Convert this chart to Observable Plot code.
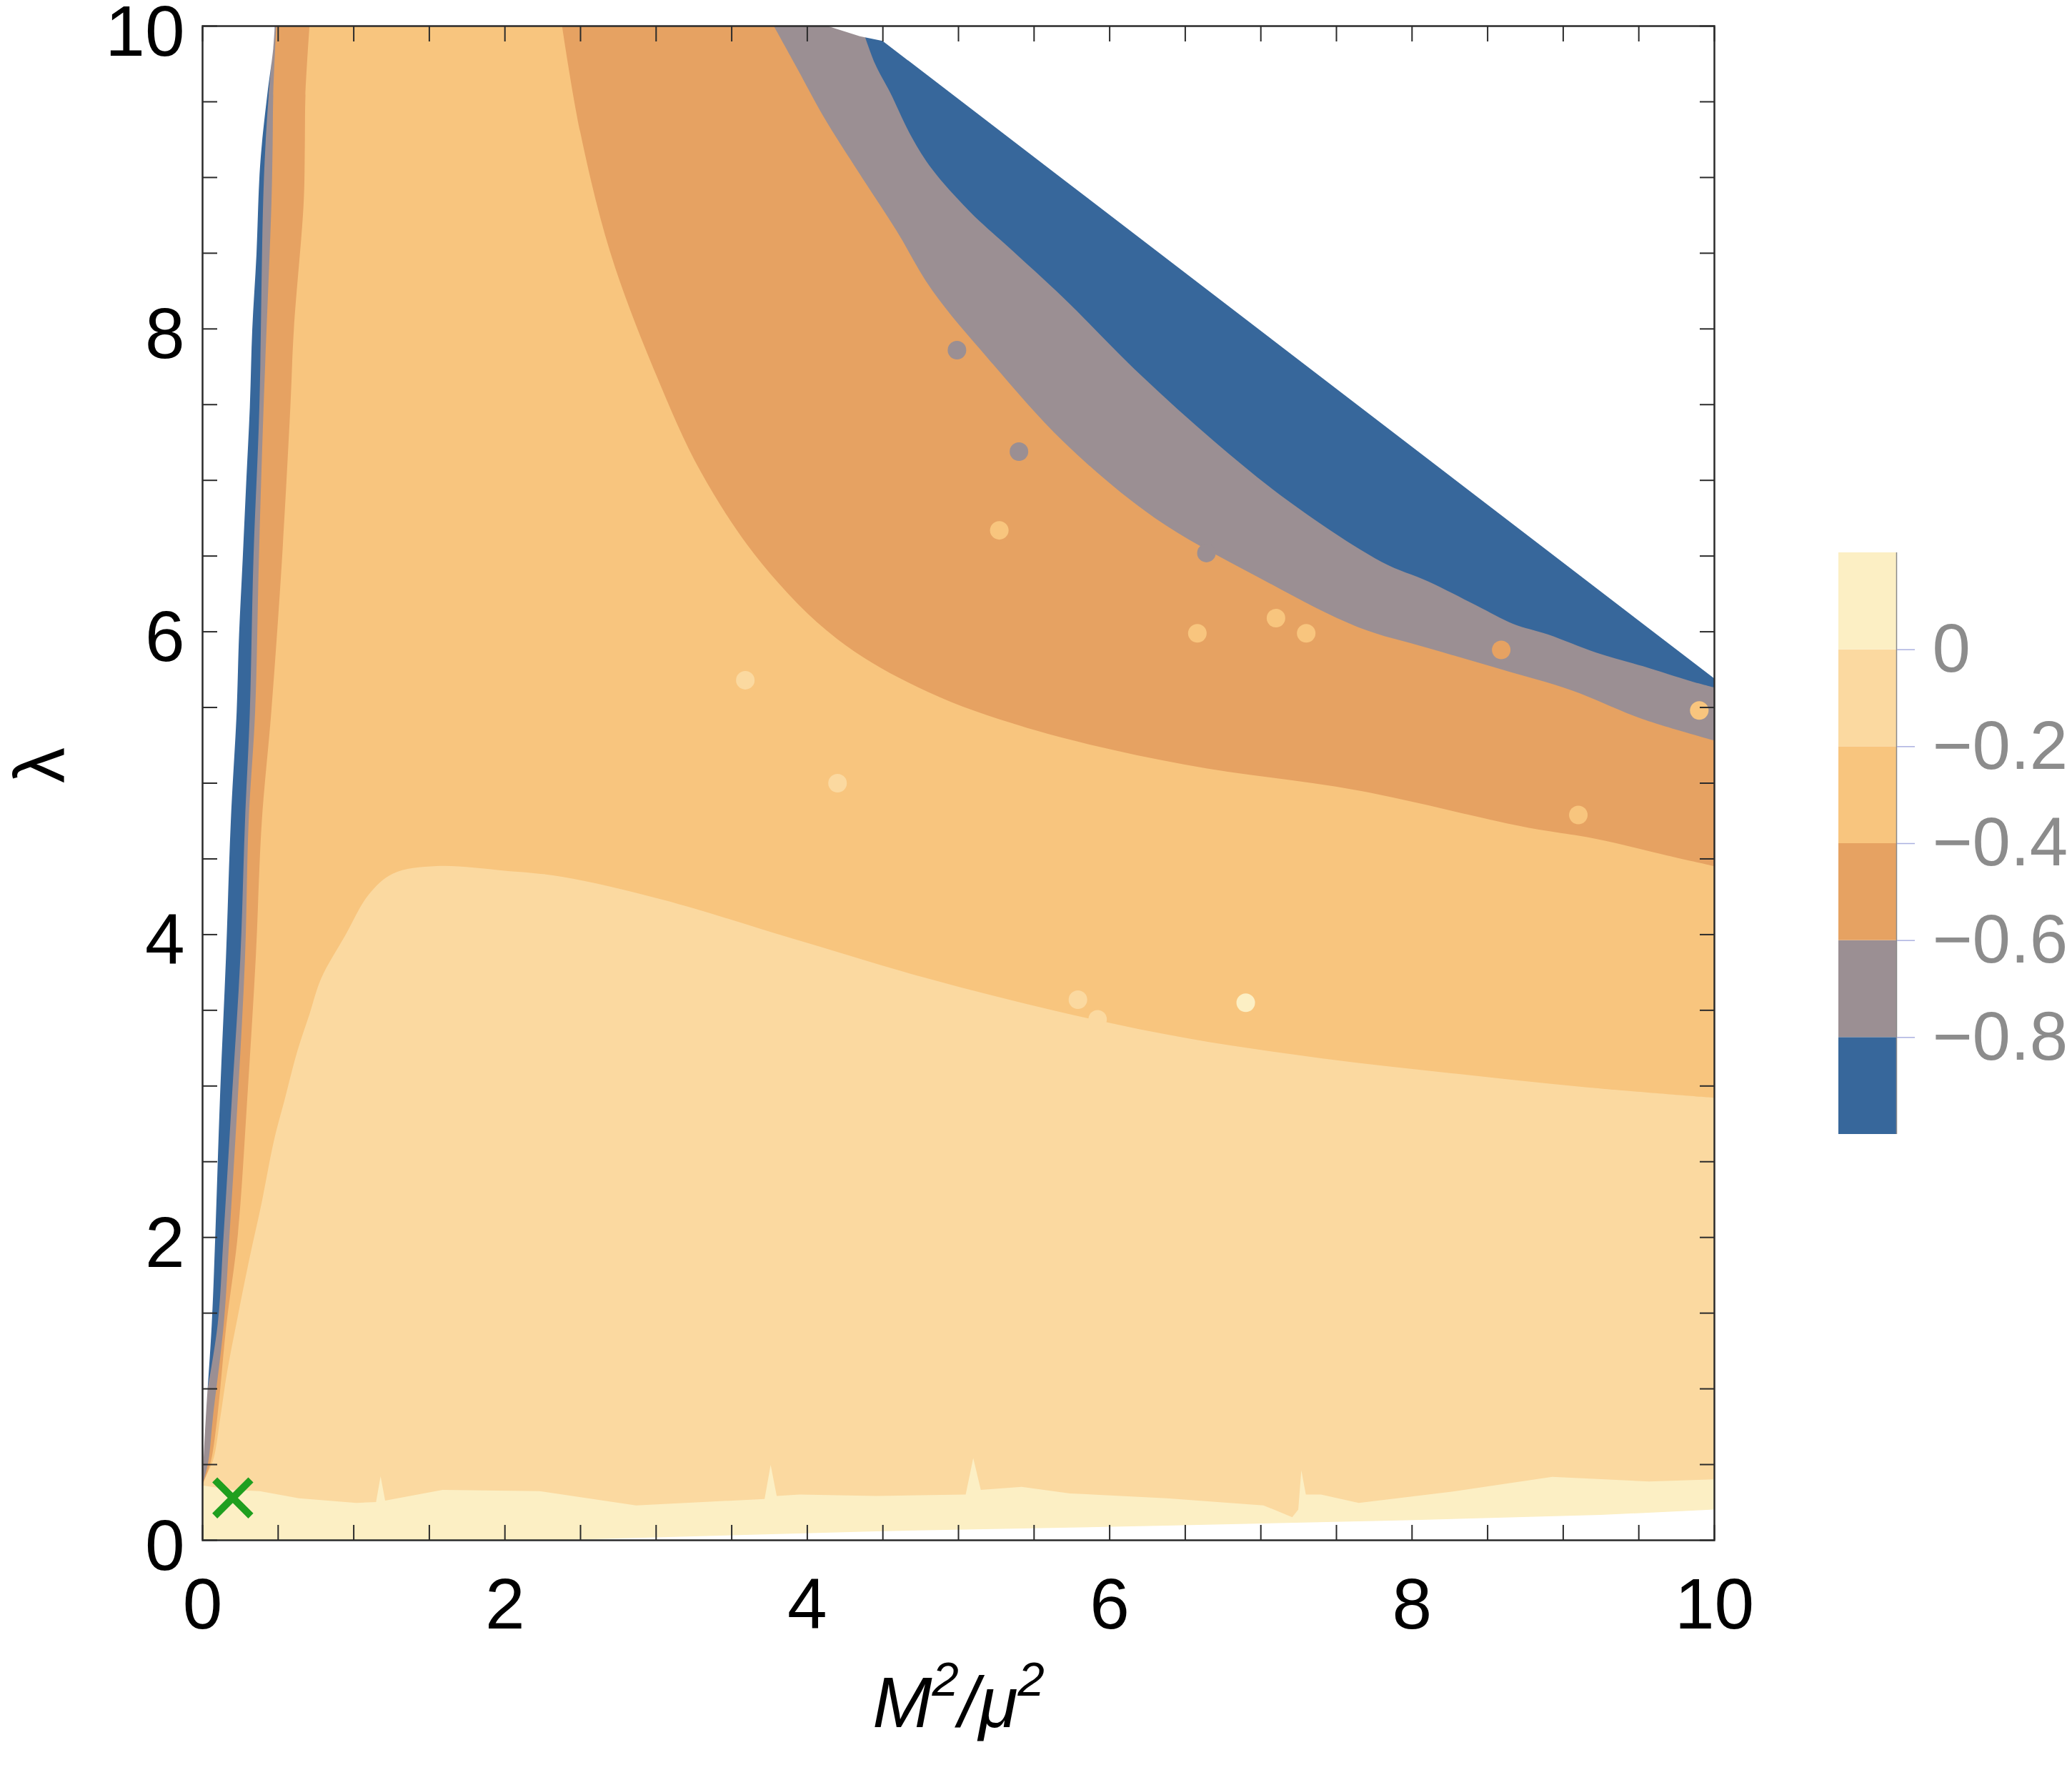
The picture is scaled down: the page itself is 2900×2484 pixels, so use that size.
<!DOCTYPE html>
<html>
<head>
<meta charset="utf-8">
<script src="https://cdn.jsdelivr.net/npm/d3@7"></script>
<script src="https://cdn.jsdelivr.net/npm/@observablehq/plot@0.6"></script>
<style>
  html, body { margin: 0; padding: 0; background: #fff; }
  #chart { position: relative; width: 2900px; height: 2484px; }
  #legend { position: absolute; left: 2573px; top: 753px; }
</style>
</head>
<body>
<div id="chart"><div id="legend"></div></div>
<script>
// Contour levels of the plotted quantity and the fill of each band (lowest first)
const levels = [-1.0, -0.8, -0.6, -0.4, -0.2, 0.0, 0.2];
const bandColors = ["#37679b", "#9b8f93", "#e6a262", "#f8c57e", "#fbd9a0", "#fcefc4"];
const legendTicks = [0, -0.2, -0.4, -0.6, -0.8];

// Axis ticks
const minorTicks = d3.range(0, 10.001, 0.5);
const labelTicks = [0, 2, 4, 6, 8, 10];
const lambdaMax = 10;

// Edge of the computed region, [M²/μ², λ]
const leftEdge = [[0,0.36],[0.024,0.81],[0.063,1.42],[0.087,2.02],[0.118,2.93],[0.157,3.84],[0.189,4.74],[0.228,5.47],[0.244,5.98],[0.268,6.48],[0.291,6.98],[0.315,7.48],[0.331,7.99],[0.359,8.49],[0.378,8.99],[0.395,9.22],[0.43,9.54],[0.47,9.85],[0.48,10]];
const upperEdge = [[4.13,10],[4.35,9.93],[4.5,9.9],[10,5.69]];
const lowerEdge = [[0,0],[2.4,0],[4.46,0.057],[6.38,0.094],[7.97,0.13],[9.25,0.165],[10,0.2]];

// Level 0 contour
const level0 = [[0,0.36],[0.2,0.33],[0.38,0.322],[0.64,0.275],[1.02,0.244],[1.15,0.25],[1.18,0.42],[1.21,0.26],[1.59,0.33],[2.23,0.322],[2.87,0.228],[3.51,0.26],[3.72,0.27],[3.76,0.495],[3.8,0.29],[3.95,0.30],[4.46,0.29],[5.05,0.30],[5.10,0.54],[5.15,0.33],[5.42,0.35],[5.74,0.307],[6.38,0.275],[7.02,0.228],[7.21,0.15],[7.25,0.2],[7.27,0.46],[7.3,0.3],[7.40,0.30],[7.65,0.244],[8.29,0.322],[8.93,0.417],[9.57,0.386],[10,0.40]];

// Level −0.2 contour
const levelM02 = [[0,0.38],[0.07,0.52],[0.12,0.81],[0.165,1.11],[0.236,1.48],[0.315,1.87],[0.394,2.23],[0.473,2.63],[0.551,2.93],[0.63,3.23],[0.709,3.47],[0.788,3.71],[0.945,3.99],[1.10,4.26],[1.26,4.40],[1.55,4.45],[2.0,4.42],[2.38,4.38],[3.04,4.23],[3.91,3.97],[4.79,3.71],[5.66,3.49],[6.53,3.31],[7.41,3.18],[8.28,3.08],[9.15,2.99],[10,2.92]];

// Level −0.4 contour: left branch and upper-right branch
const levelM04Left = [[0,0.36],[0.055,0.51],[0.10,0.81],[0.16,1.42],[0.236,2.02],[0.299,2.93],[0.354,3.84],[0.394,4.74],[0.457,5.47],[0.528,6.48],[0.583,7.48],[0.606,7.99],[0.671,8.83],[0.679,9.22],[0.683,9.54],[0.71,10]];
const levelM04Right = [[2.38,10],[2.5,9.3],[2.7,8.5],[3.0,7.7],[3.3,7.05],[3.7,6.45],[4.2,5.95],[4.8,5.6],[5.5,5.35],[6.5,5.12],[7.64,4.95],[8.74,4.71],[9.22,4.63],[9.69,4.52],[10,4.45]];

// Level −0.6 contour
const levelM06Left = [[0,0.36],[0.039,0.51],[0.071,0.81],[0.142,1.42],[0.181,2.02],[0.236,2.93],[0.283,3.84],[0.307,4.74],[0.35,5.47],[0.375,6.48],[0.406,7.48],[0.458,8.83],[0.466,9.22],[0.47,9.54],[0.49,10]];
const levelM06Right = [[3.78,10],[3.94,9.71],[4.11,9.40],[4.35,9.02],[4.59,8.65],[4.83,8.25],[5.2,7.8],[5.7,7.25],[6.3,6.75],[7.0,6.35],[7.64,6.03],[8.11,5.89],[8.59,5.75],[9.06,5.61],[9.53,5.42],[10,5.28]];

// Level −0.8 contour
const levelM08Left = [[0.03,0.96],[0.102,1.42],[0.142,2.02],[0.197,2.93],[0.252,3.84],[0.283,4.74],[0.315,5.47],[0.339,6.48],[0.378,7.48],[0.403,8.83],[0.419,9.22],[0.44,9.54],[0.48,10]];
const levelM08Right = [[4.36,10],[4.45,9.75],[4.55,9.56],[4.69,9.27],[4.83,9.05],[5.08,8.77],[5.32,8.55],[5.7,8.2],[6.2,7.7],[6.7,7.25],[7.2,6.85],[7.80,6.46],[8.11,6.33],[8.43,6.17],[8.67,6.05],[8.90,5.98],[9.22,5.86],[9.53,5.77],[9.85,5.67],[10,5.63]];

// Small isolated islands of the grid: [M²/μ², λ, band index]
const islands = [
  [8.59,5.88,2],[9.9,5.48,3],[9.1,4.79,3],[5.27,6.67,3],[5.40,7.19,1],
  [6.58,5.99,3],[7.10,6.09,3],[7.30,5.99,3],[3.59,5.68,4],[5.79,3.57,4],
  [5.92,3.44,4],[4.99,7.86,1],[6.64,6.52,1],[4.2,5.0,4],[6.9,3.55,5]
];

// Marked point
const markedPoint = [[0.2, 0.28]];

const font = "'Liberation Sans', Arial, Helvetica, sans-serif";
const px = d => d[0], py = d => d[1];
const smooth = "catmull-rom";

// region above a contour (x-monotone) and region left of a contour (λ-monotone)
const above = (pts, fill, curve = smooth) => Plot.areaY(pts, {x: px, y1: py, y2: lambdaMax, fill, curve});
const leftOf = (pts, fill, curve = smooth) => Plot.areaX(pts, {y: py, x1: 0, x2: px, fill, curve});

const chart = Plot.plot({
  width: 2900,
  height: 2484,
  marginLeft: 283,
  marginRight: 501,
  marginTop: 36,
  marginBottom: 329,
  x: {domain: [0, 10], axis: null},
  y: {domain: [0, 10], axis: null},
  style: {fontFamily: font, background: "white", color: "black"},
  marks: [
    Plot.frame({fill: bandColors[5], stroke: null}),
    above(level0, bandColors[4], "linear"),
    above(levelM02, bandColors[3]),
    leftOf(levelM04Left, bandColors[2]),
    above(levelM04Right, bandColors[2]),
    leftOf(levelM06Left, bandColors[1]),
    above(levelM06Right, bandColors[1]),
    leftOf(levelM08Left, bandColors[0]),
    above(levelM08Right, bandColors[0]),
    Plot.dot(islands, {x: px, y: py, r: 13, fill: d => bandColors[d[2]], stroke: null}),
    // outside the computed region
    leftOf(leftEdge, "white"),
    above(upperEdge, "white", "linear"),
    Plot.areaY(lowerEdge, {x: px, y1: 0, y2: py, fill: "white"}),
    Plot.frame({stroke: "#2b2b2b", strokeWidth: 2.5}),
    // inward ticks on all four sides
    Plot.axisX({anchor: "bottom", ticks: minorTicks, tickSize: 21, dy: -21, fill: "none", stroke: "#2b2b2b", strokeWidth: 2, label: null}),
    Plot.axisX({anchor: "top", ticks: minorTicks, tickSize: 21, dy: 21, fill: "none", stroke: "#2b2b2b", strokeWidth: 2, label: null}),
    Plot.axisY({anchor: "left", ticks: minorTicks, tickSize: 21, dx: 21, fill: "none", stroke: "#2b2b2b", strokeWidth: 2, label: null}),
    Plot.axisY({anchor: "right", ticks: minorTicks, tickSize: 21, dx: -21, fill: "none", stroke: "#2b2b2b", strokeWidth: 2, label: null}),
    // tick labels
    Plot.axisX({anchor: "bottom", ticks: labelTicks, tickSize: 0, tickPadding: 52, fontSize: 100, tickFormat: d => String(d), label: null}),
    Plot.axisY({anchor: "left", ticks: labelTicks, tickSize: 0, tickPadding: 25, dy: 9, fontSize: 100, tickFormat: d => String(d), label: null}),
    // axis titles
    Plot.text(["M²/μ²"], {frameAnchor: "bottom", dy: 261, text: d => d, fontSize: 100, fontStyle: "italic"}),
    Plot.text(["λ"], {frameAnchor: "left", dx: -226, rotate: -90, text: d => d, fontSize: 100}),
    // marked point
    Plot.dot(markedPoint, {x: px, y: py, symbol: "times", r: 23, stroke: "#1f9f1f", strokeWidth: 10})
  ]
});

// superscripts in the horizontal axis title
d3.select(chart).selectAll("text").filter(function() { return this.textContent === "M²/μ²"; }).each(function() {
  const t = d3.select(this);
  t.text(null);
  t.append("tspan").text("M");
  t.append("tspan").attr("dy", -44).attr("font-size", 67).text("2");
  t.append("tspan").attr("dy", 44).text("/μ");
  t.append("tspan").attr("dy", -44).attr("font-size", 67).text("2");
});

document.getElementById("chart").prepend(chart);

// Colour bar
const bands = bandColors.map((c, i) => ({lo: levels[i], hi: levels[i + 1], color: c}));
const legend = Plot.plot({
  width: 327,
  height: 854,
  marginTop: 20,
  marginBottom: 20,
  marginLeft: 0,
  marginRight: 246,
  x: {domain: [0, 1], axis: null},
  y: {domain: [levels[0], levels[levels.length - 1]], axis: null},
  style: {fontFamily: font, background: "transparent"},
  marks: [
    Plot.rect(bands, {x1: 0, x2: 1, y1: "lo", y2: "hi", fill: "color"}),
    Plot.ruleX([1], {stroke: "#8a8a8a", strokeWidth: 1.5}),
    Plot.axisY({anchor: "right", ticks: legendTicks, tickSize: 25, tickPadding: 25, fontSize: 96,
      fill: "#8c8c8c", stroke: "#aab0e0", strokeWidth: 1.5,
      tickFormat: d => d === 0 ? "0" : "\u2212" + Math.abs(d).toFixed(1), label: null})
  ]
});
document.getElementById("legend").append(legend);
</script>
</body>
</html>
